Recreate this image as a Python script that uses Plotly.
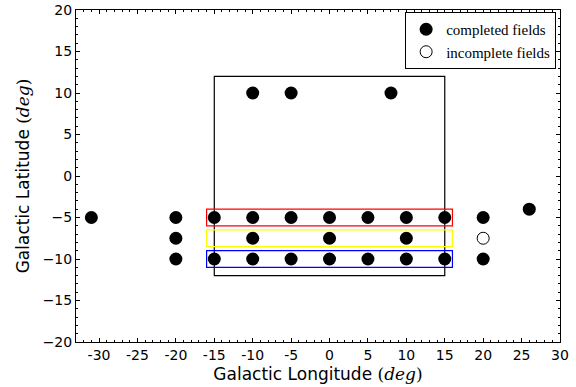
import plotly.graph_objects as go

# completed fields (l, b)
done_l = [-31, -20, -20, -20, -15, -15, -10, -10, -10, -10, -5, -5, -5, 0, 0, 0, 5, 5, 8, 10, 10, 10, 15, 15, 20, 20, 26]
done_b = [-5, -5, -7.5, -10, -5, -10, 10, -5, -7.5, -10, 10, -5, -10, -5, -7.5, -10, -5, -10, 10, -5, -7.5, -10, -5, -10, -5, -10, -4]
# incomplete fields
todo_l = [20]
todo_b = [-7.5]

# rectangles: x0, x1, y0, y1, colour
rect_x0 = [-15, -16, -16, -16]
rect_x1 = [15, 16, 16, 16]
rect_y0 = [-12, -6, -8.5, -11]
rect_y1 = [12, -4, -6.5, -9]
rect_col = ["black", "red", "yellow", "blue"]

xtick_vals = [-30, -25, -20, -15, -10, -5, 0, 5, 10, 15, 20, 25, 30]
xtick_text = ["-30", "-25", "-20", "-15", "-10", "-5", "0", "5", "10", "15", "20", "25", "30"]
ytick_vals = [-20, -15, -10, -5, 0, 5, 10, 15, 20]
ytick_text = ["\u221220", "\u221215", "\u221210", "\u22125", "0", "5", "10", "15", "20"]

fig = go.Figure()
for x0, x1, y0, y1, c in zip(rect_x0, rect_x1, rect_y0, rect_y1, rect_col):
    fig.add_shape(type="rect", x0=x0, x1=x1, y0=y0, y1=y1, xref="x", yref="y",
                  line=dict(color=c, width=1.2), fillcolor="rgba(0,0,0,0)", layer="below")

fig.add_trace(go.Scatter(x=done_l, y=done_b, mode="markers", name="completed fields",
                         marker=dict(size=13, color="black", line=dict(width=0))))
fig.add_trace(go.Scatter(x=todo_l, y=todo_b, mode="markers", name="incomplete fields",
                         marker=dict(size=12, color="white", line=dict(width=1, color="black"))))

axis_common = dict(showgrid=False, zeroline=False, showline=True, linecolor="black", linewidth=1,
                   mirror="allticks", ticks="inside", ticklen=4, tickwidth=1, tickcolor="black",
                   automargin=False,
                   tickfont=dict(family="DejaVu Sans", size=14, color="black"))

title_span = '<span style="font-family:DejaVu Serif">(<i>deg</i>)</span>'
fig.update_xaxes(range=[-33, 30], tickmode="array", tickvals=xtick_vals, ticktext=xtick_text,
                 minor=dict(ticks="inside", ticklen=2, tickcolor="black", dtick=1, tick0=0),
                 title=dict(text="Galactic Longitude " + title_span, standoff=6,
                            font=dict(family="DejaVu Sans", size=17, color="black")),
                 **axis_common)
fig.update_yaxes(range=[-20, 20], tickmode="array", tickvals=ytick_vals, ticktext=ytick_text,
                 minor=dict(ticks="inside", ticklen=2, tickcolor="black", dtick=1, tick0=0),
                 title=dict(text="Galactic Latitude " + title_span, standoff=8,
                            font=dict(family="DejaVu Sans", size=17, color="black")),
                 **axis_common)

fig.update_layout(
    width=576, height=387,
    margin=dict(l=76, r=16, t=10, b=45),
    paper_bgcolor="white", plot_bgcolor="white",
    showlegend=True,
    legend=dict(x=0.992, y=0.994, xanchor="right", yanchor="top",
                bordercolor="black", borderwidth=1, bgcolor="white",
                font=dict(family="Liberation Serif", size=15, color="black"),
                itemwidth=30, tracegroupgap=0),
)

fig.write_html("out.html")
